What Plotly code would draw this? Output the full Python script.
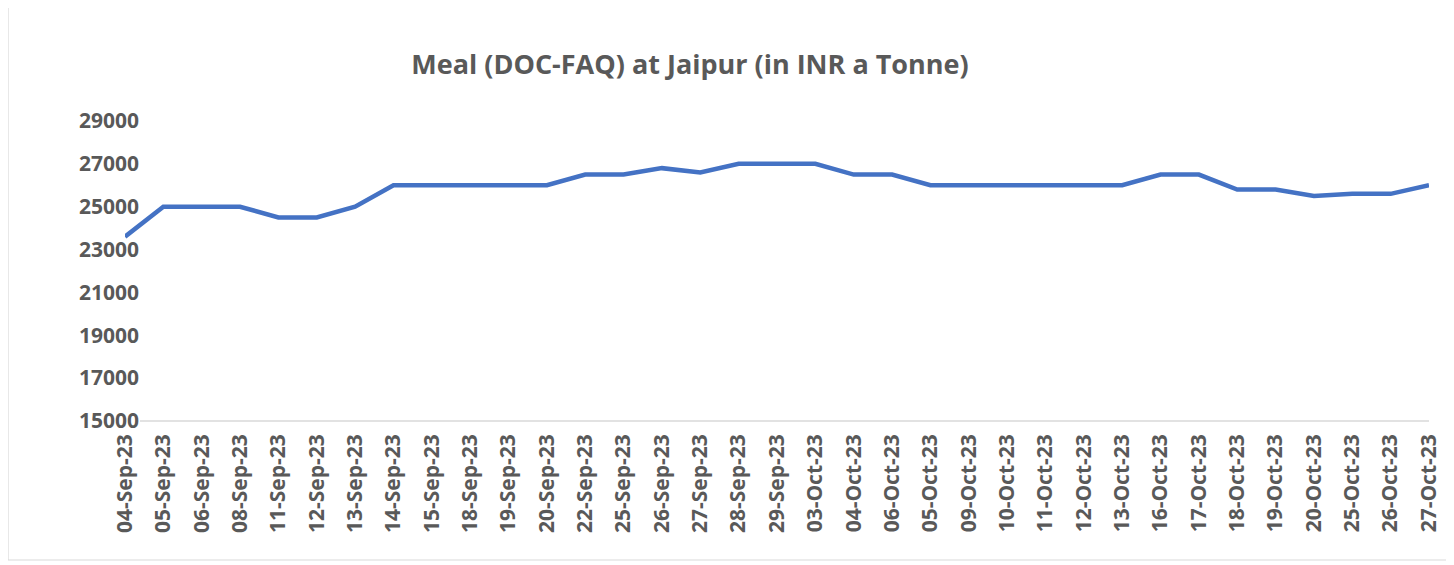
import plotly.graph_objects as go

dates = ["04-Sep-23", "05-Sep-23", "06-Sep-23", "08-Sep-23", "11-Sep-23", "12-Sep-23",
         "13-Sep-23", "14-Sep-23", "15-Sep-23", "18-Sep-23", "19-Sep-23", "20-Sep-23",
         "22-Sep-23", "25-Sep-23", "26-Sep-23", "27-Sep-23", "28-Sep-23", "29-Sep-23",
         "03-Oct-23", "04-Oct-23", "06-Oct-23", "05-Oct-23", "09-Oct-23", "10-Oct-23",
         "11-Oct-23", "12-Oct-23", "13-Oct-23", "16-Oct-23", "17-Oct-23", "18-Oct-23",
         "19-Oct-23", "20-Oct-23", "25-Oct-23", "26-Oct-23", "27-Oct-23"]
prices = [23600, 25000, 25000, 25000, 24500, 24500,
          25000, 26000, 26000, 26000, 26000, 26000,
          26500, 26500, 26800, 26600, 27000, 27000,
          27000, 26500, 26500, 26000, 26000, 26000,
          26000, 26000, 26000, 26500, 26500, 25800,
          25800, 25500, 25600, 25600, 26000]
y_ticks = [15000, 17000, 19000, 21000, 23000, 25000, 27000, 29000]
y_labels = [str(v) for v in y_ticks]

W, H = 1454, 565
OFF = 8  # page offset of the figure in the browser
L, R, T, B = 120 - OFF, 25 + OFF, 121 - OFF, 144 + OFF
pw = W - L - R
ph = H - T - B
FONT = "Open Sans"
GREY = "#595959"

fig = go.Figure()
fig.add_trace(go.Scatter(
    x=list(range(len(dates))), y=prices, mode="lines",
    line=dict(color="#4472C4", width=4.5),
    hoverinfo="skip", showlegend=False,
))

fig.update_layout(
    width=W, height=H,
    margin=dict(l=L, r=R, t=T, b=B),
    paper_bgcolor="white", plot_bgcolor="white",
    title=dict(text="<b>Meal (DOC-FAQ) at Jaipur (in INR a Tonne)</b>",
               x=(690 - OFF) / W, xanchor="center", xref="container",
               y=1 - (65 - OFF) / H, yanchor="middle", yref="container",
               font=dict(family=FONT, size=27, color=GREY)),
    xaxis=dict(
        domain=[5 / pw, 1],
        range=[0, len(dates) - 1],
        tickmode="array", tickvals=list(range(len(dates))), ticktext=dates,
        tickangle=-90, ticks="", showgrid=False, zeroline=False, showline=False,
        tickfont=dict(family=FONT, size=21, color=GREY, weight="bold"),
        ticklabelstandoff=8,
    ),
    yaxis=dict(
        range=[15000, 29000], tickmode="array", tickvals=y_ticks, ticktext=y_labels,
        anchor="free", position=19 / pw,
        ticks="", showgrid=False, zeroline=False, showline=False,
        tickfont=dict(family=FONT, size=21, color=GREY, weight="bold"),
    ),
    shapes=[
        dict(type="line", xref="paper", yref="paper",
             x0=20 / pw, x1=1.0, y0=0, y1=0,
             line=dict(color="#D9D9D9", width=1.5), layer="below"),
        dict(type="rect", xref="paper", yref="paper",
             x0=(8 - 120) / pw, x1=(1447 - 120) / pw,
             y0=-(560 - 421) / ph, y1=(421 - 7) / ph,
             line=dict(color="#D9D9D9", width=1.2), fillcolor="rgba(0,0,0,0)",
             layer="below"),
    ],
)

fig.write_html("out.html")
